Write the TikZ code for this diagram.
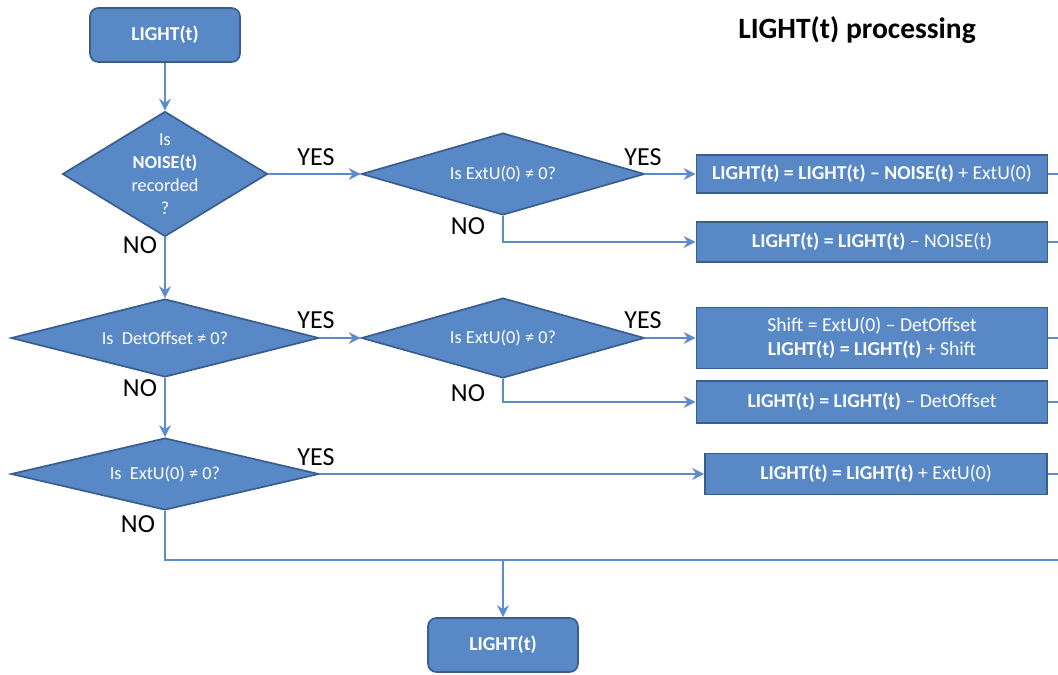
\documentclass[tikz,border=0pt]{standalone}
\usepackage{fontspec}
\setmainfont{Carlito}
\usetikzlibrary{shapes.geometric,arrows.meta}

\definecolor{boxfill}{RGB}{88,137,198}
\definecolor{boxedge}{RGB}{58,94,140}
\definecolor{flowline}{RGB}{92,140,202}

\begin{document}
\begin{tikzpicture}[
        x=0.025cm, y=-0.025cm,
        terminal/.style={draw=boxedge, fill=boxfill, line width=1.2pt, rounded corners=6pt,
            minimum width=3.75cm, minimum height=1.35cm, text=white,
            font=\bfseries\fontsize{14}{16}\selectfont},
        decision/.style={diamond, draw=boxedge, fill=boxfill, line width=1.2pt, inner sep=0pt,
            aspect=3.5, text=white, align=center, font=\fontsize{13}{16.4}\selectfont},
        action/.style={rectangle, draw=boxedge, fill=boxfill, line width=1.2pt,
            minimum width=8.775cm, text=white, align=center, font=\fontsize{14}{17}\selectfont},
        flow/.style={draw=flowline, line width=1pt, -{Stealth[length=3mm, width=3mm, inset=1mm]}},
        exit/.style={draw=flowline, line width=1pt},
        answer/.style={font=\fontsize{18.5}{20}\selectfont}
    ]
        \useasboundingbox (0,0) rectangle (1058,675);

        % Title
        \node[font=\bfseries\fontsize{21}{24}\selectfont] (title) at (857,30) {LIGHT(t) processing};

        % Left column: questions
        \node[terminal] (start) at (165,35) {LIGHT(t)};
        \node[decision, minimum width=5.125cm, minimum height=3.125cm, aspect=1.64, inner ysep=-6pt]
            (noise) at (165,174) {Is\\\textbf{NOISE(t)}\\recorded\\?};
        \node[decision, minimum width=7.7cm, minimum height=1.95cm]
            (offset) at (165,338) {Is\ \ DetOffset ≠ 0?};
        \node[decision, minimum width=7.7cm, minimum height=1.8cm]
            (extC) at (165,474) {Is\ \ ExtU(0) ≠ 0?};

        % Middle column
        \node[decision, minimum width=7.075cm, minimum height=2.05cm]
            (extA) at (503,174) {Is ExtU(0) ≠ 0?};
        \node[decision, minimum width=7.075cm, minimum height=2.0cm]
            (extB) at (503,338) {Is ExtU(0) ≠ 0?};
        \node[terminal] (finish) at (503,645) {LIGHT(t)};

        % Right column: corrections
        \node[action, minimum height=0.95cm] (corrA) at (872,174)
            {\textbf{LIGHT(t) = LIGHT(t) – NOISE(t)} + ExtU(0)};
        \node[action, minimum height=1cm] (corrB) at (872,242)
            {\textbf{LIGHT(t) = LIGHT(t)} – NOISE(t)};
        \node[action, minimum height=1.525cm] (shift) at (872,338)
            {Shift = ExtU(0) – DetOffset\\\textbf{LIGHT(t) = LIGHT(t)} + Shift};
        \node[action, minimum height=1.05cm] (corrC) at (872,402)
            {\textbf{LIGHT(t) = LIGHT(t)} – DetOffset};
        \node[action, minimum width=8.55cm, minimum height=1.025cm] (corrD) at (876,474)
            {\textbf{LIGHT(t) = LIGHT(t)} + ExtU(0)};

        \coordinate (rim) at (1058,0);
        \coordinate (merge) at (503,560);

        % Connectors
        \draw[flow] (start) -- (noise);
        \draw[flow] (noise) -- (extA);
        \draw[flow] (extA) -- (corrA);
        \draw[flow] (extA.south) |- (corrB.west);
        \draw[flow] (noise) -- (offset);
        \draw[flow] (offset) -- (extB);
        \draw[flow] (extB) -- (shift);
        \draw[flow] (extB.south) |- (corrC.west);
        \draw[flow] (offset) -- (extC);
        \draw[flow] (extC) -- (corrD);
        \draw[exit] (extC.south) |- (merge -| rim);
        \draw[flow] (merge) -- (finish);
        \foreach \outcome in {corrA,corrB,shift,corrC,corrD}
            \draw[exit] (\outcome.east) -- (\outcome.east -| rim);

        % Answers
        \node[answer] (yesNoise) at (316,157) {YES};
        \node[answer] (noNoise) at (140,245) {NO};
        \node[answer] (yesExtA) at (643,157) {YES};
        \node[answer] (noExtA) at (468,226) {NO};
        \node[answer] (yesOffset) at (316,320) {YES};
        \node[answer] (noOffset) at (140,388) {NO};
        \node[answer] (yesExtB) at (643,320) {YES};
        \node[answer] (noExtB) at (468,393) {NO};
        \node[answer] (yesExtC) at (316,457) {YES};
        \node[answer] (noExtC) at (138,524) {NO};
    \end{tikzpicture}
\end{document}
